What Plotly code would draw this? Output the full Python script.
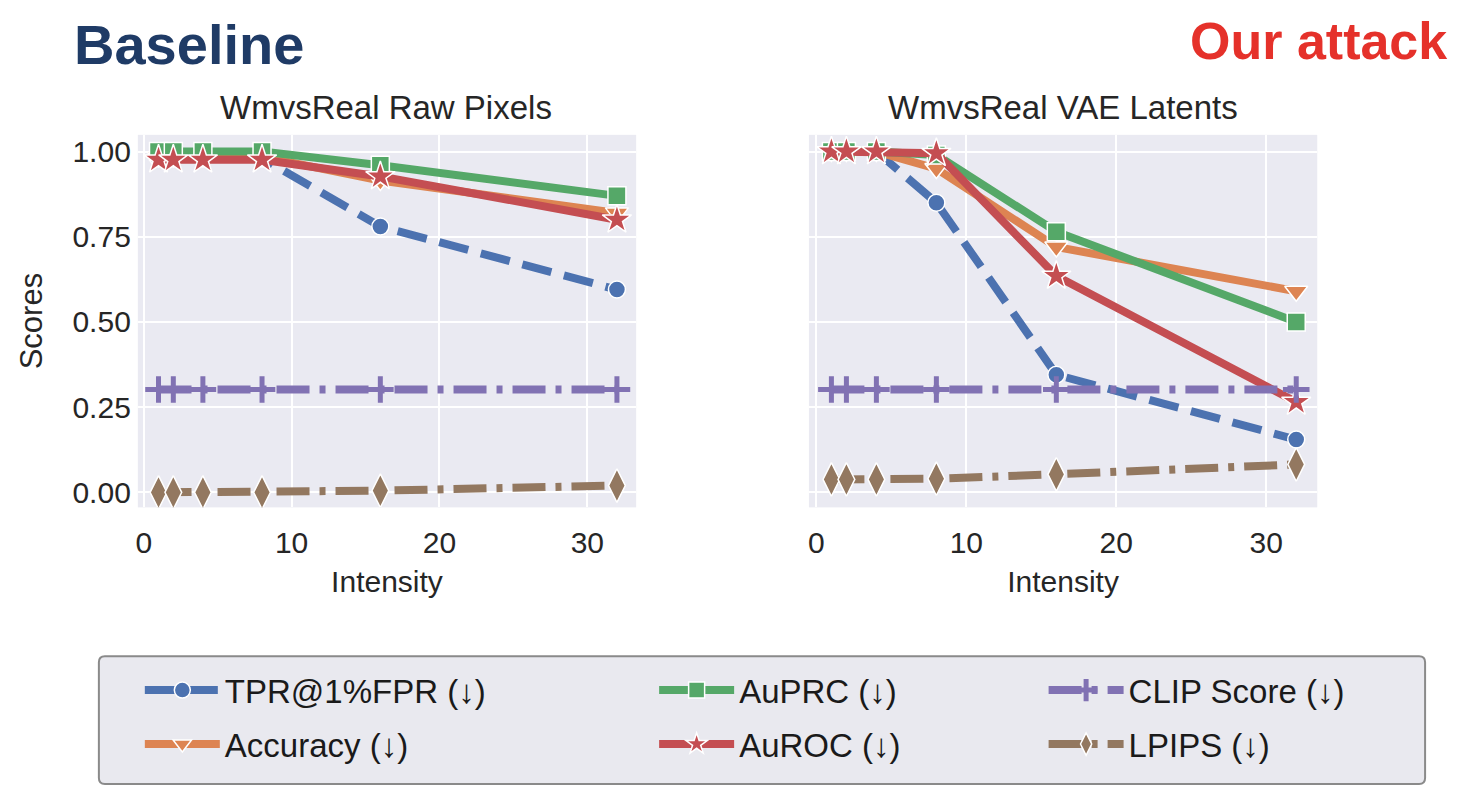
import plotly.graph_objects as go

# ---------------- data ----------------
intensity = [1, 2, 4, 8, 16, 32]

panel_titles = ["WmvsReal Raw Pixels", "WmvsReal VAE Latents"]
metric_names = ["TPR@1%FPR (↓)", "Accuracy (↓)", "AuPRC (↓)", "AuROC (↓)", "CLIP Score (↓)", "LPIPS (↓)"]

# Raw pixels panel
tpr_raw = [0.98, 0.98, 0.98, 0.98, 0.78, 0.595]
acc_raw = [0.985, 0.985, 0.985, 0.985, 0.915, 0.82]
auprc_raw = [1.0, 1.0, 1.0, 1.0, 0.96, 0.87]
auroc_raw = [0.976, 0.976, 0.976, 0.976, 0.927, 0.80]
clip_raw = [0.302, 0.302, 0.302, 0.302, 0.302, 0.302]
lpips_raw = [0.0, 0.0, 0.0, 0.0, 0.005, 0.02]

# VAE latents panel
tpr_vae = [1.0, 1.0, 1.0, 0.85, 0.345, 0.155]
acc_vae = [1.0, 1.0, 1.0, 0.95, 0.72, 0.59]
auprc_vae = [1.0, 1.0, 1.0, 0.99, 0.765, 0.50]
auroc_vae = [1.0, 1.0, 1.0, 0.995, 0.635, 0.265]
clip_vae = [0.302, 0.302, 0.302, 0.302, 0.302, 0.302]
lpips_vae = [0.038, 0.038, 0.038, 0.04, 0.053, 0.082]

x_ticks = [0, 10, 20, 30]
y_ticks = [0.0, 0.25, 0.5, 0.75, 1.0]
y_tick_labels = ["0.00", "0.25", "0.50", "0.75", "1.00"]

# ---------------- styles ----------------
FONT = "Liberation Sans, Arial, sans-serif"
W, H = 1478, 788
OFF = 8  # page body margin
colors = ["#4C72B0", "#DD8452", "#55A868", "#C44E52", "#8172B3", "#937860"]
symbols = ["circle", "triangle-down", "square", "star", "cross-thin", "diamond-tall"]
msizes = [17, 20, 18, 22, 19, 24]
dashes = ["30px,13px", "solid", "solid", "solid", "33px,10px,6px,10px", "33px,10px,6px,10px"]
legend_ids = ["legend", "legend", "legend2", "legend2", "legend3", "legend3"]
ranks = [1, 2, 1, 2, 1, 2]

panels = [
    ("x", "y", [tpr_raw, acc_raw, auprc_raw, auroc_raw, clip_raw, lpips_raw]),
    ("x2", "y2", [tpr_vae, acc_vae, auprc_vae, auroc_vae, clip_vae, lpips_vae]),
]

fig = go.Figure()
for pi, (xa, ya, series) in enumerate(panels):
    for i, vals in enumerate(series):
        thin = symbols[i] == "cross-thin"
        fig.add_trace(go.Scatter(
            x=intensity, y=vals, xaxis=xa, yaxis=ya,
            mode="lines+markers",
            name=metric_names[i],
            legend=legend_ids[i], legendrank=ranks[i], legendgroup=metric_names[i],
            showlegend=(pi == 0),
            line=dict(color=colors[i], width=8, dash=dashes[i]),
            marker=dict(symbol=symbols[i], size=msizes[i], color=colors[i],
                        line=dict(color=colors[i] if thin else "white", width=5 if thin else 1.5)),
        ))

def px_x(p):
    return (p - OFF) / W

def px_y(p):
    return 1 - (p - OFF) / H

axis_common = dict(showgrid=True, gridcolor="white", gridwidth=2, zeroline=False,
                   showline=False, ticks="", tickfont=dict(family=FONT, size=30, color="#262626"))

fig.update_layout(
    width=W, height=H,
    margin=dict(l=0, r=0, t=0, b=0),
    paper_bgcolor="white", plot_bgcolor="#EAEAF2",
    font=dict(family=FONT, color="#262626"),
    xaxis=dict(domain=[px_x(136), px_x(635)], range=[-0.4, 33.3], tickvals=x_ticks, ticklabelstandoff=15,
               title=dict(text="Intensity", font=dict(size=30), standoff=12), anchor="y", **axis_common),
    xaxis2=dict(domain=[px_x(808), px_x(1317)], range=[-0.5, 33.4], tickvals=x_ticks, ticklabelstandoff=15,
                title=dict(text="Intensity", font=dict(size=30), standoff=12), anchor="y2", **axis_common),
    yaxis=dict(domain=[px_y(508), px_y(135)], range=[-0.044, 1.049], tickvals=y_ticks,
               ticktext=y_tick_labels, ticklabelstandoff=6,
               title=dict(text="Scores", font=dict(size=31), standoff=20),
               anchor="x", **axis_common),
    yaxis2=dict(domain=[px_y(508), px_y(135)], range=[-0.044, 1.049], tickvals=y_ticks,
                showticklabels=False, anchor="x2", **axis_common),
)

legend_common = dict(orientation="v", bgcolor="rgba(0,0,0,0)", borderwidth=0,
                     font=dict(family=FONT, size=33, color="#1a1a1a"),
                     itemwidth=75, yanchor="top", xanchor="left", tracegroupgap=8)
fig.update_layout(
    legend=dict(x=px_x(138), y=px_y(663), **legend_common),
    legend2=dict(x=px_x(653), y=px_y(663), **legend_common),
    legend3=dict(x=px_x(1043), y=px_y(663), **legend_common),
)

# legend frame (rounded)
x0, x1, y0, y1, r = px_x(97), px_x(1425), px_y(785), px_y(657), 6
rx, ry = r / W, r / H
path = (f"M{x0+rx},{y1} L{x1-rx},{y1} Q{x1},{y1} {x1},{y1-ry} L{x1},{y0+ry} Q{x1},{y0} {x1-rx},{y0} "
        f"L{x0+rx},{y0} Q{x0},{y0} {x0},{y0+ry} L{x0},{y1-ry} Q{x0},{y1} {x0+rx},{y1} Z")
fig.add_shape(type="path", path=path, xref="paper", yref="paper",
              fillcolor="#E9E9EF", line=dict(color="#8a8a8a", width=2), layer="below")

# titles
def label(text, xc, yc, size, color):
    fig.add_annotation(text=text, x=px_x(xc), y=px_y(yc), xref="paper", yref="paper",
                       xanchor="center", yanchor="middle", showarrow=False,
                       font=dict(family=FONT, size=size, color=color))

label(panel_titles[0], 385, 108, 33, "#262626")
label(panel_titles[1], 1062, 108, 33, "#262626")
label("<b>Baseline</b>", 187, 45, 56, "#1F3B66")
label("<b>Our attack</b>", 1318, 41, 52, "#E5312A")

fig.write_html("out.html")
